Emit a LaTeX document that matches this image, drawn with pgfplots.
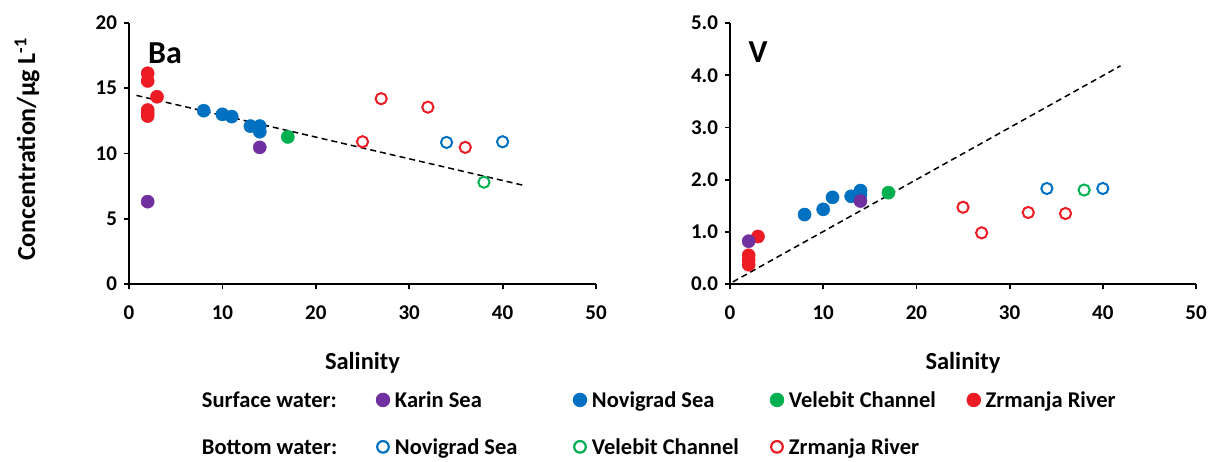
\documentclass[border=0pt]{standalone}
\usepackage{fontspec}
\setmainfont{Carlito}
\usepackage{pgfplots}
\pgfplotsset{compat=1.18}
\definecolor{cpurple}{RGB}{112,48,160}
\definecolor{cblue}{RGB}{0,112,192}
\definecolor{cgreen}{RGB}{0,176,80}
\definecolor{cred}{RGB}{237,28,36}
\newcommand{\lf}{\fontsize{11.25}{13.5}\selectfont\bfseries}
\pgfplotsset{
  myaxis/.style={
    scale only axis, width=233pt, height=130.5pt,
    axis x line=bottom, axis y line=left,
    axis line style={-, line width=0.9pt},
    tick align=outside, major tick length=2.5pt,
    tick style={line width=0.9pt, black},
    xmin=0, xmax=50, xtick={0,10,...,50},
    ticklabel style={font=\fontsize{10.5}{12}\selectfont\bfseries},
    /pgf/number format/assume math mode=true,
    xticklabel style={yshift=-4.6pt},
    xlabel={Salinity},
    xlabel style={font=\fontsize{12.25}{14}\selectfont\bfseries, at={(axis description cs:0.5,-0.303)}, anchor=center},
    clip=false,
  },
  sfill/.style={only marks, mark=*, mark size=3.3pt, mark options={fill=#1, draw=#1, line width=0.2pt}},
  sopen/.style={only marks, mark=o, mark size=2.8pt, mark options={draw=#1, line width=1pt, fill=white}},
  trend/.style={black, line width=0.75pt, dash pattern=on 3pt off 2pt, no marks},
}
\begin{document}
\begin{tikzpicture}
\path[use as bounding box] (0,0) rectangle (604.5pt,230.5pt);
% ---------------- Ba ----------------
\begin{axis}[myaxis, at={(64.5pt,88.5pt)}, anchor=south west,
  width=233.5pt,
  ymin=0, ymax=20, ytick={0,5,...,20},
  ylabel={Concentration/µg L\textsuperscript{-1}},
  ylabel style={font=\fontsize{13}{15}\selectfont\bfseries, at={(axis description cs:-0.2184,0.517)}, anchor=center, rotate=0},
  legend columns=5,
  legend style={at={(axis description cs:0.1563,-0.4023)}, anchor=north west,
    draw=none, fill=none, inner sep=0pt, outer sep=0pt, column sep=0pt, row sep=12.5pt,
    nodes={inner sep=0pt, font=\lf}},
  legend image code/.code={\path (-3pt,-3pt) (3pt,3pt); \draw[#1] plot coordinates {(0pt,0pt)};},
]
\addplot[sfill=cred, forget plot] coordinates {(2,16.15) (2,15.56) (2,13.33) (2,13.1) (2,12.87) (3,14.35)};
\addplot[sfill=cblue, forget plot] coordinates {(8,13.28) (10,13.0) (11,12.83) (13,12.1) (14,12.1) (14,11.67)};
\addplot[sfill=cgreen, forget plot] coordinates {(17,11.27)};
\addplot[sfill=cpurple, forget plot] coordinates {(2,6.31) (14,10.47)};
\addplot[sopen=cred, forget plot] coordinates {(25,10.9) (27,14.2) (32,13.55) (36,10.47)};
\addplot[sopen=cblue, forget plot] coordinates {(34,10.85) (40,10.9)};
\addplot[sopen=cgreen, forget plot] coordinates {(38,7.8)};
\addplot[trend, forget plot] coordinates {(0.8,14.45) (42.3,7.55)};
\node[font=\fontsize{16}{19}\selectfont\bfseries] at (axis cs:3.85,17.7) {Ba};
% legend
\addlegendimage{empty legend}
\addlegendentry{\makebox[87pt][l]{\strut Surface water:}}
\addlegendimage{only marks, mark=*, mark size=3.4pt, draw=cpurple, fill=cpurple, mark options={fill=cpurple, draw=cpurple}}
\addlegendentry{\makebox[91.5pt][l]{\strut\hspace{2.5pt}Karin Sea}}
\addlegendimage{only marks, mark=*, mark size=3.4pt, draw=cblue, fill=cblue, mark options={fill=cblue, draw=cblue}}
\addlegendentry{\makebox[91.5pt][l]{\strut\hspace{2.5pt}Novigrad Sea}}
\addlegendimage{only marks, mark=*, mark size=3.4pt, draw=cgreen, fill=cgreen, mark options={fill=cgreen, draw=cgreen}}
\addlegendentry{\makebox[91.5pt][l]{\strut\hspace{2.5pt}Velebit Channel}}
\addlegendimage{only marks, mark=*, mark size=3.4pt, draw=cred, fill=cred, mark options={fill=cred, draw=cred}}
\addlegendentry{\makebox[91.5pt][l]{\strut\hspace{2.5pt}Zrmanja River}}
\addlegendimage{empty legend}
\addlegendentry{\makebox[87pt][l]{\strut Bottom water:}}
\addlegendimage{only marks, mark=o, mark size=2.9pt, draw=cblue, line width=1pt, mark options={draw=cblue, fill=white, line width=1.1pt}}
\addlegendentry{\makebox[91.5pt][l]{\strut\hspace{2.5pt}Novigrad Sea}}
\addlegendimage{only marks, mark=o, mark size=2.9pt, draw=cgreen, line width=1pt, mark options={draw=cgreen, fill=white, line width=1.1pt}}
\addlegendentry{\makebox[91.5pt][l]{\strut\hspace{2.5pt}Velebit Channel}}
\addlegendimage{only marks, mark=o, mark size=2.9pt, draw=cred, line width=1pt, mark options={draw=cred, fill=white, line width=1.1pt}}
\addlegendentry{\makebox[91.5pt][l]{\strut\hspace{2.5pt}Zrmanja River}}
\end{axis}
% ---------------- V ----------------
\begin{axis}[myaxis, at={(365pt,88.5pt)}, anchor=south west,
  ymin=0, ymax=5, ytick={0,1,...,5},
  yticklabel style={/pgf/number format/fixed, /pgf/number format/fixed zerofill, /pgf/number format/precision=1},
]
\addplot[sfill=cred] coordinates {(2,0.55) (2,0.46) (2,0.37) (3,0.91)};
\addplot[sfill=cblue] coordinates {(8,1.33) (10,1.43) (11,1.66) (13,1.68) (14,1.79) (14,1.71)};
\addplot[sfill=cgreen] coordinates {(17,1.75)};
\addplot[sfill=cpurple] coordinates {(2,0.82) (14,1.59)};
\addplot[sopen=cred] coordinates {(25,1.47) (27,0.98) (32,1.37) (36,1.35)};
\addplot[sopen=cblue] coordinates {(34,1.83) (40,1.83)};
\addplot[sopen=cgreen] coordinates {(38,1.80)};
\addplot[trend] coordinates {(0.3,0.04) (41.9,4.18)};
\node[font=\fontsize{16}{19}\selectfont\bfseries] at (axis cs:3.0,4.44) {V};
\end{axis}
\end{tikzpicture}
\end{document}
